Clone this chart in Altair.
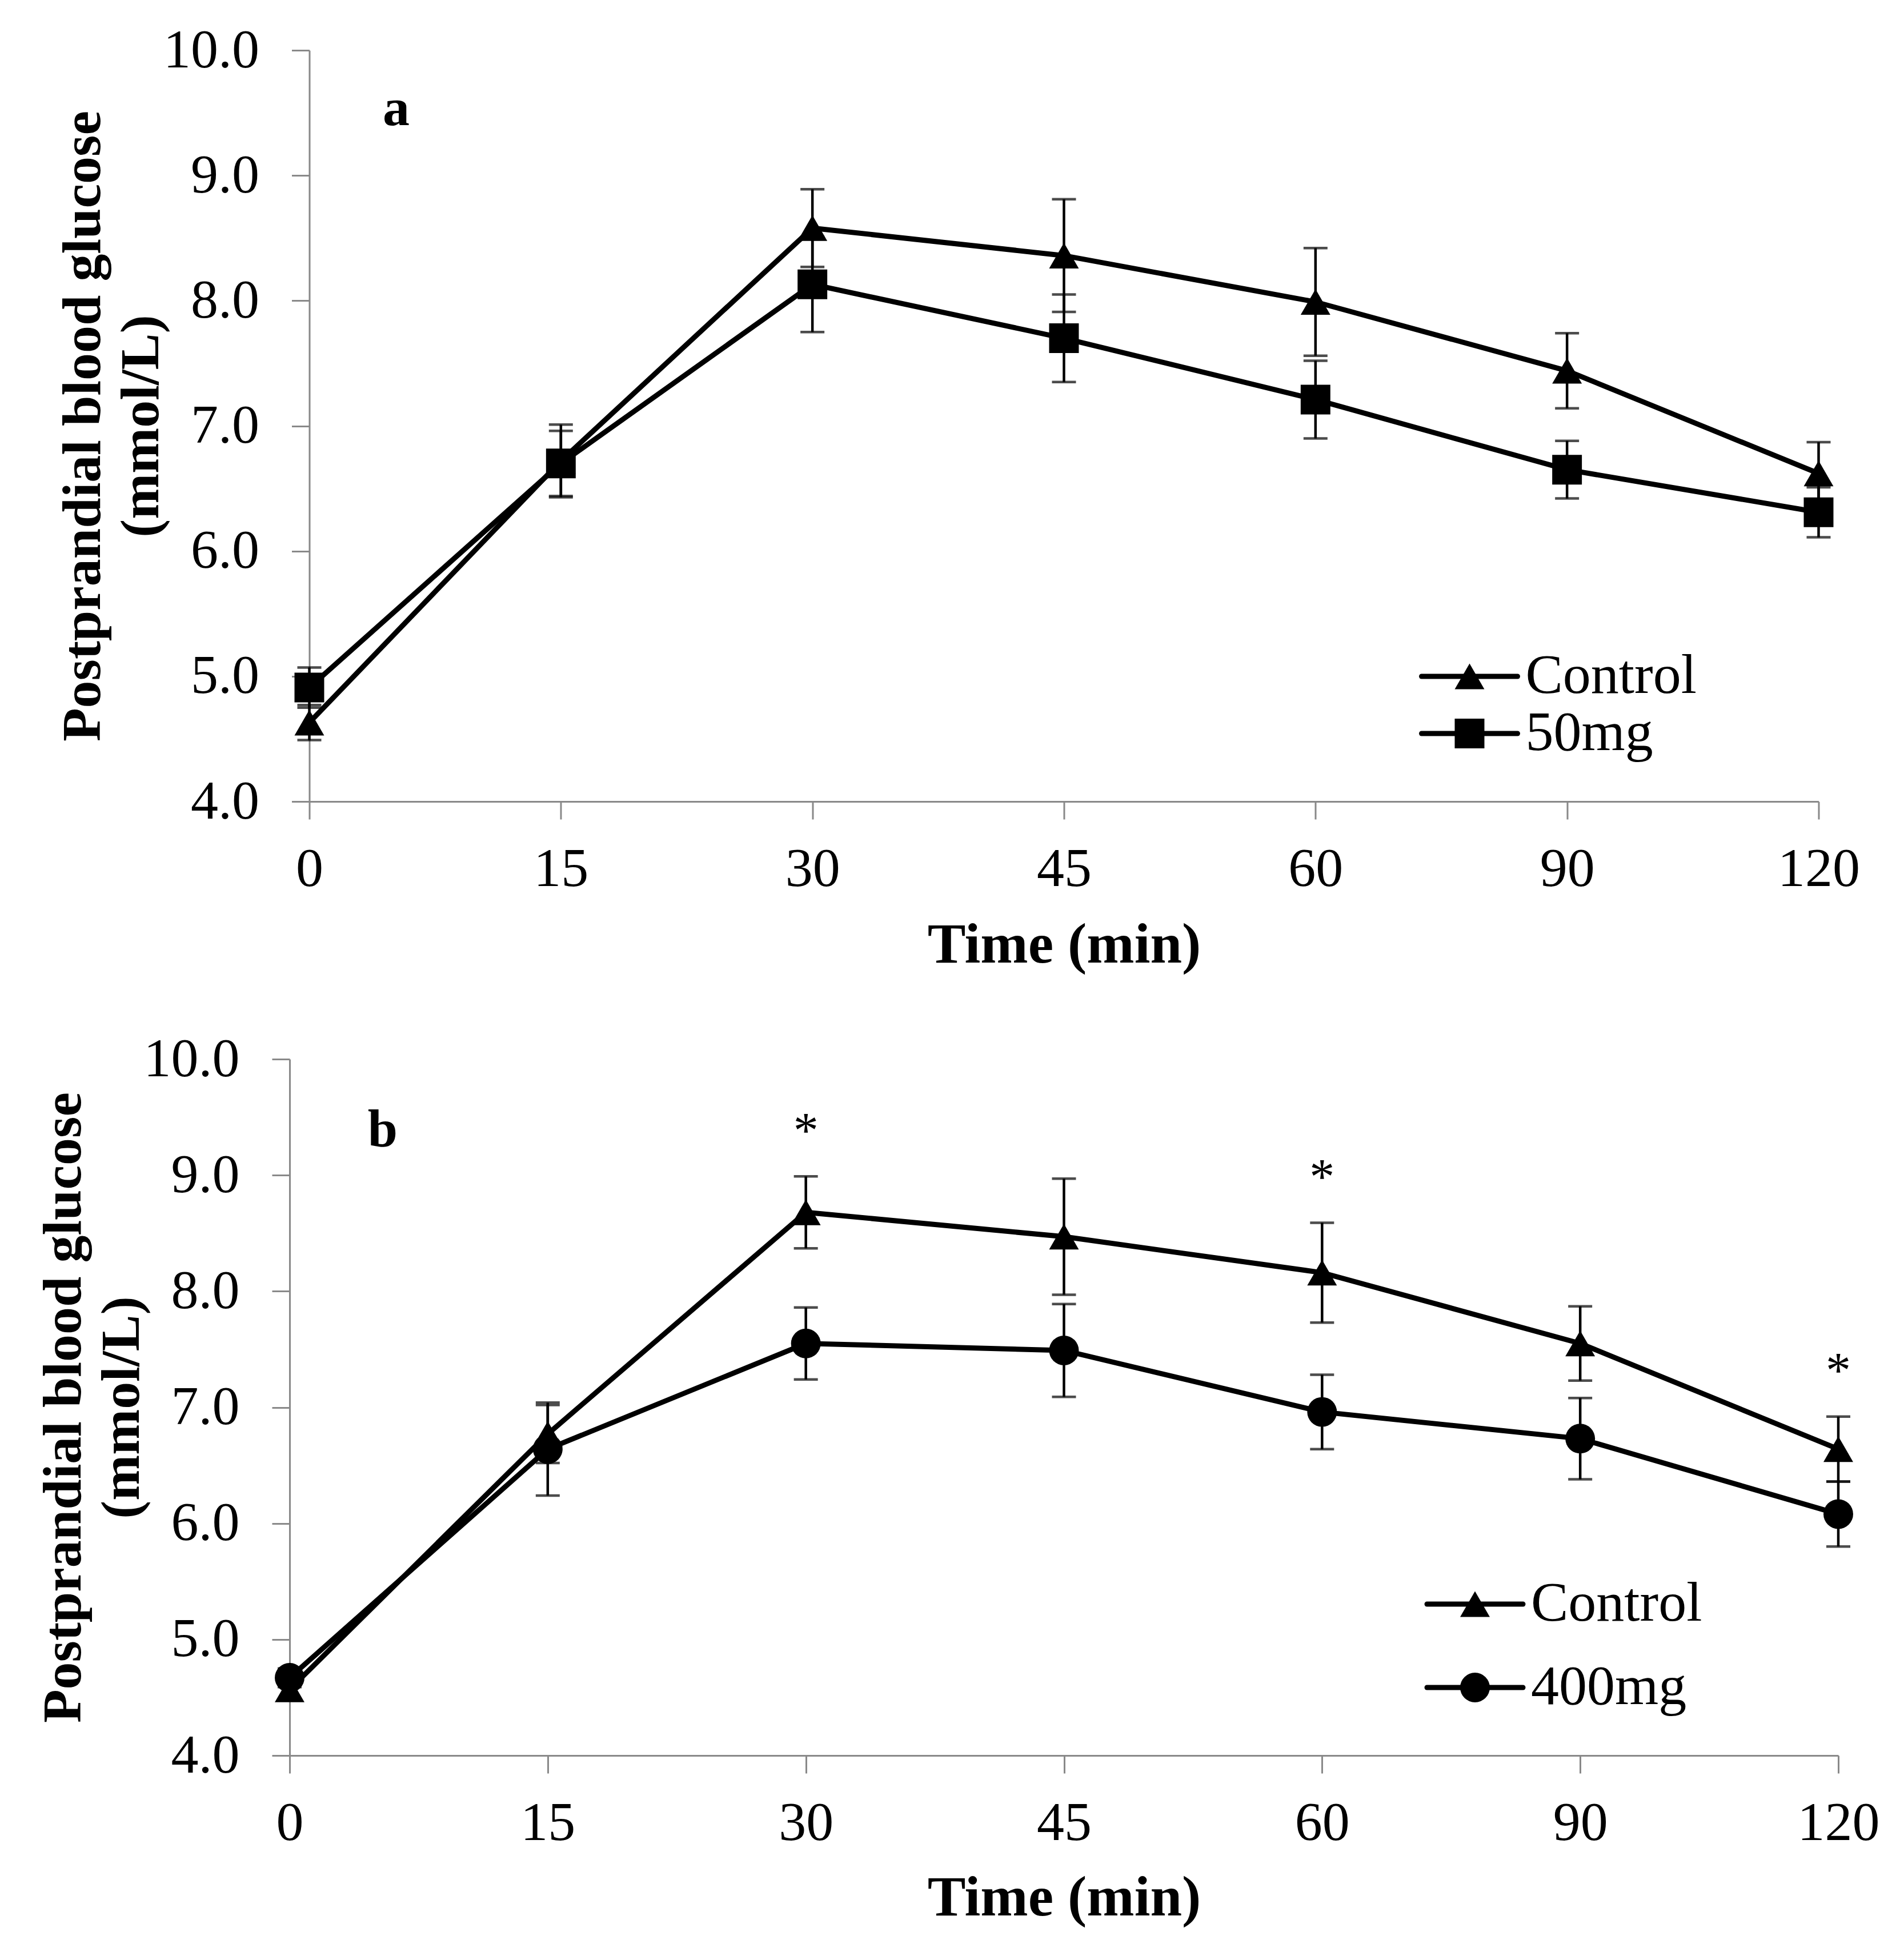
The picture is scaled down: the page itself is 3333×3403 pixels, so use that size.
import altair as alt
import pandas as pd

# ---------------- data ----------------
times = ["0", "15", "30", "45", "60", "90", "120"]

a_groups = ["Control", "50mg"]
a_control_mean = [4.63, 6.72, 8.58, 8.36, 7.99, 7.44, 6.62]
a_control_se = [0.14, 0.29, 0.31, 0.45, 0.43, 0.30, 0.25]
a_50mg_mean = [4.91, 6.70, 8.13, 7.70, 7.21, 6.65, 6.31]
a_50mg_se = [0.16, 0.26, 0.38, 0.35, 0.31, 0.23, 0.20]

b_groups = ["Control", "400mg"]
b_control_mean = [4.57, 6.77, 8.68, 8.47, 8.16, 7.55, 6.64]
b_control_se = [0.08, 0.25, 0.31, 0.50, 0.43, 0.32, 0.28]
b_400mg_mean = [4.67, 6.64, 7.55, 7.49, 6.96, 6.73, 6.08]
b_400mg_se = [0.08, 0.40, 0.31, 0.40, 0.32, 0.35, 0.28]
b_significant = ["", "", "*", "", "*", "", "*"]   # Control vs 400mg

y_ticks = [4, 5, 6, 7, 8, 9, 10]

FONT = "Liberation Serif"
GRAY = "#898989"
MSIZE = 2700
LINE_W = 9


def table(groups, means, ses, sig=None):
    rows = []
    for gi, (g, m, s) in enumerate(zip(groups, means, ses)):
        for i, t in enumerate(times):
            rows.append({
                "time": t, "group": g, "mean": m[i], "se": s[i],
                "sig": (sig[i] if (sig is not None and gi == 0) else ""),
            })
    return pd.DataFrame(rows)


def legend_layers(groups, shapes, cx, cy, step, text_dx, half_len):
    out = []
    for i, (g, s) in enumerate(zip(groups, shapes)):
        y = cy + i * step
        c = alt.Chart(pd.DataFrame({"label": [g]}))
        out.append(c.mark_rule(color="black", strokeWidth=LINE_W, strokeCap="round").encode(
            x=alt.value(cx - half_len), x2=alt.value(cx + half_len), y=alt.value(y)))
        out.append(c.mark_point(filled=True, opacity=1, size=MSIZE, color="black",
                                shape=s).encode(x=alt.value(cx), y=alt.value(y)))
        out.append(c.mark_text(font=FONT, fontSize=98, color="black", align="left",
                               baseline="middle").encode(
            x=alt.value(cx + text_dx), y=alt.value(y), text="label:N"))
    return out


def panel(df, groups, shapes, w, h, letter, letter_pos, leg, xlab_pad,
          xtitle_pad):
    xenc = alt.X(
        "time:O", sort=times,
        scale=alt.Scale(type="point", padding=0),
        axis=alt.Axis(title="Time (min)", labelAngle=0, labelPadding=xlab_pad,
                      titlePadding=xtitle_pad, titleFontSize=100),
    )
    yaxis = alt.Axis(
        title=["Postprandial blood glucose", "(mmol/L)"], values=y_ticks,
        format=".1f", labelPadding=57, titlePadding=45, titleLineHeight=102,
    )
    yscale = alt.Scale(domain=[4, 10], nice=False, zero=False)

    def Y(field):
        return alt.Y(field + ":Q", scale=yscale, axis=yaxis)

    base = alt.Chart(df).transform_calculate(
        lo="datum.mean - datum.se", hi="datum.mean + datum.se"
    ).encode(x=xenc)

    err = base.mark_rule(color="black", strokeWidth=4.5).encode(
        y=Y("lo"), y2="hi:Q", detail="group:N")
    cap_lo = base.mark_tick(color="black", thickness=4.5, size=42).encode(
        y=Y("lo"), detail="group:N")
    cap_hi = base.mark_tick(color="black", thickness=4.5, size=42).encode(
        y=Y("hi"), detail="group:N")
    line = base.mark_line(color="black", strokeWidth=LINE_W).encode(
        y=Y("mean"), detail="group:N")
    pts = base.mark_point(filled=True, opacity=1, size=MSIZE, color="black").encode(
        y=Y("mean"),
        shape=alt.Shape("group:N", scale=alt.Scale(domain=groups, range=shapes),
                        legend=None),
    )
    layers = [err, cap_lo, cap_hi, line, pts]

    if (df["sig"] != "").any():
        star = base.transform_filter("datum.sig != ''").transform_calculate(
            ys="datum.mean + datum.se + 0.45"
        ).mark_text(font=FONT, fontSize=88, color="black", baseline="alphabetic",
                    dy=40).encode(y=Y("ys"), text="sig:N")
        layers.append(star)

    lab = alt.Chart(pd.DataFrame({"t": [letter]})).mark_text(
        font=FONT, fontSize=94, fontWeight="bold", color="black",
        baseline="alphabetic", align="center",
    ).encode(text="t:N", x=alt.value(letter_pos[0]), y=alt.value(letter_pos[1]))
    layers.append(lab)

    layers += legend_layers(groups, shapes, *leg)

    return alt.layer(*layers).properties(width=w, height=h)


df_a = table(a_groups, [a_control_mean, a_50mg_mean], [a_control_se, a_50mg_se])
df_b = table(b_groups, [b_control_mean, b_400mg_mean], [b_control_se, b_400mg_se],
             b_significant)

pa = panel(df_a, a_groups, ["triangle-up", "square"], 2642, 1315, "a",
           (152, 131), (2031, 1096, 100, 98, 84), 40, 36)
pb = panel(df_b, b_groups, ["triangle-up", "circle"], 2711, 1219, "b",
           (163, 153), (2075, 954, 146, 98, 84), 40, 34)

chart = alt.vconcat(pa, pb, spacing=102, center=True).resolve_scale(
    shape="independent"
).properties(
    padding={"left": 55, "top": 32, "right": 10, "bottom": 10},
    background="white",
).configure_view(stroke=None).configure_axis(
    domainColor=GRAY, domainWidth=3, tickColor=GRAY, tickWidth=3, tickSize=31,
    labelFont=FONT, labelFontSize=96, labelColor="black",
    titleFont=FONT, titleFontSize=96, titleFontWeight="bold", titleColor="black",
    grid=False, labelFlush=False, labelOverlap=False,
)

chart.save("out.html", embed_options={"renderer": "svg", "actions": False})
